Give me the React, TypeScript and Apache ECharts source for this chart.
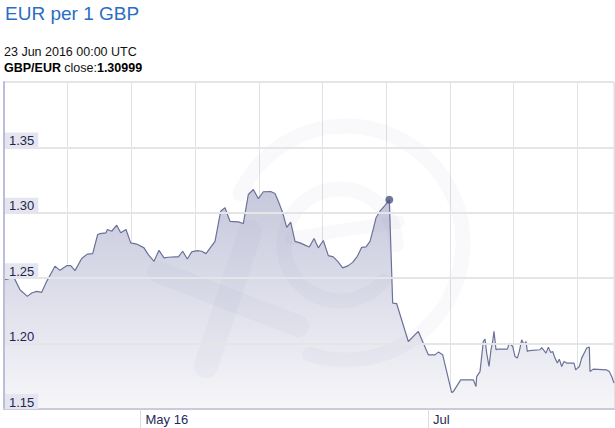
import React, { useEffect, useRef } from "react";
import * as echarts from "echarts";

// Days from 16 May 2016 00:00 UTC
const dayOffsets = [
  -21.76, -21.15, -20.45, -20.08, -19.28, -18.11, -17.41, -16.61, -15.81, -15.01,
  -13.68, -12.88, -11.81, -11.17, -10.48, -9.41, -8.51, -7.65, -6.85, -6.48,
  -5.52, -5.31, -4.61, -3.81, -3.17, -2.32, -1.57, -0.61, 0.56, 1.25,
  2.16, 2.96, 3.76, 4.45, 5.52, 6.05, 6.75, 7.49, 8.19, 9.09,
  9.79, 10.48, 11.92, 12.83, 13.52, 14.32, 15.65, 16.45, 17.25, 18.05,
  18.85, 19.65, 20.83, 21.52, 22.05, 22.75, 23.39, 24.03, 24.72, 25.52,
  26.32, 27.01, 27.76, 28.45, 29.25, 30.05, 30.85, 31.55, 32.35, 33.25,
  33.95, 34.69, 35.39, 36.08, 36.72, 37.25, 37.68, 38.32, 39.12, 39.81,
  40.35, 40.99, 42.85, 44.45, 46.05, 47.12, 47.65, 48.35, 49.79, 50.05,
  51.23, 53.25, 53.68, 53.79, 54.32, 54.85, 55.12, 55.39, 55.76, 56.08,
  56.35, 56.56, 56.88, 57.15, 58.69, 59.01, 59.55, 59.92, 60.29, 60.61,
  60.99, 61.36, 61.68, 61.89, 62.21, 63.92, 64.19, 64.88, 65.25, 65.63,
  65.95, 66.32, 66.69, 67.01, 67.39, 67.76, 68.19, 69.36, 69.63, 70.21,
  70.59, 71.12, 71.39, 71.81, 71.92, 72.45, 74.59, 75.01, 75.39, 75.76,
];

// GBP/EUR rates
const rates = [
  1.2489, 1.2494, 1.2527, 1.2489, 1.2412, 1.2361, 1.2387, 1.2399, 1.2392, 1.2476,
  1.2591, 1.256, 1.2596, 1.2596, 1.2558, 1.265, 1.2684, 1.2688, 1.2834, 1.2841,
  1.2847, 1.2872, 1.2859, 1.2905, 1.2847, 1.2872, 1.277, 1.2761, 1.2732, 1.268,
  1.2629, 1.2713, 1.2655, 1.266, 1.2663, 1.2663, 1.2706, 1.2647, 1.2701, 1.2711,
  1.2706, 1.2688, 1.2782, 1.3012, 1.3038, 1.2935, 1.2931, 1.2918, 1.314, 1.3178,
  1.3109, 1.3161, 1.3163, 1.3148, 1.3089, 1.3, 1.2889, 1.2928, 1.2782, 1.277,
  1.2753, 1.2739, 1.2803, 1.2732, 1.2788, 1.2673, 1.2663, 1.2629, 1.2579, 1.2596,
  1.2621, 1.2667, 1.2736, 1.2739, 1.2782, 1.2877, 1.2962, 1.3012, 1.3056, 1.30999,
  1.231, 1.2305, 1.2016, 1.2093, 1.1914, 1.1914, 1.1935, 1.1914, 1.1626, 1.1633,
  1.1723, 1.1723, 1.1672, 1.1748, 1.1786, 1.2016, 1.2035, 1.1927, 1.1825, 1.1953,
  1.2016, 1.2093, 1.1953, 1.1958, 1.1958, 1.2004, 1.1978, 1.1901, 1.1889, 1.194,
  1.2029, 1.1991, 1.2016, 1.194, 1.1947, 1.1953, 1.197, 1.1927, 1.1973, 1.1932,
  1.194, 1.1889, 1.1851, 1.1881, 1.1825, 1.1863, 1.1851, 1.1851, 1.1799, 1.1825,
  1.1889, 1.194, 1.1966, 1.1973, 1.1786, 1.1805, 1.1799, 1.1786, 1.1748, 1.1698,
];

const highlightIndex = 79;
const titleText = "EUR per 1 GBP";
const highlightDateText = "23 Jun 2016 00:00 UTC";
const pairName = "GBP/EUR";

const xRangeDays = [-21.84, 75.76];
const xTickDays = [0, 46];
const xTickLabels = ["May 16", "Jul"];
const yMin = 1.15;
const yMax = 1.4;
const yStep = 0.05;

const FONT = "'Liberation Sans', Arial, Helvetica, sans-serif";

export default function App() {
  const ref = useRef<HTMLDivElement>(null);

  useEffect(() => {
    if (!ref.current) return;
    const chart = echarts.init(ref.current, undefined, { renderer: "svg" });
    const seriesData = dayOffsets.map((d, i) => [d, rates[i]]);
    const wm = "rgba(110,115,165,0.045)";

    chart.setOption({
      animation: false,
      textStyle: { fontFamily: FONT },
      grid: {
        left: 4,
        right: 1,
        top: 82,
        bottom: 19,
        show: true,
        borderColor: "#dcdcdc",
        borderWidth: 1,
        backgroundColor: "#ffffff",
      },
      xAxis: [
        {
          type: "value",
          min: xRangeDays[0],
          max: xRangeDays[1],
          z: 10,
          axisLine: { show: true, onZero: false, lineStyle: { color: "#c9cadb", width: 2 } },
          axisTick: {
            show: true,
            customValues: xTickDays,
            length: 19,
            lineStyle: { color: "#dddddd", width: 1 },
          },
          axisLabel: {
            customValues: xTickDays,
            formatter: (v: number) => {
              const idx = xTickDays.findIndex((t) => Math.abs(t - v) < 0.5);
              return idx >= 0 ? xTickLabels[idx] : "";
            },
            align: "left",
            padding: [0, 0, 0, 5],
            margin: 4,
            color: "#1f2a5c",
            fontSize: 13,
            fontFamily: FONT,
          },
          splitLine: { show: false },
        },
        {
          type: "value",
          position: "top",
          min: 0,
          max: 610 / 63.7,
          interval: 1,
          axisLine: { show: false },
          axisTick: { show: false },
          axisLabel: { show: false },
          splitLine: { show: true, lineStyle: { color: "#e2e2e2", width: 1 } },
        },
      ],
      yAxis: {
        type: "value",
        min: yMin,
        max: yMax,
        interval: yStep,
        z: 10,
        axisLine: { show: true, onZero: false, lineStyle: { color: "#bcbdd8", width: 2 } },
        axisTick: { show: false },
        axisLabel: {
          inside: true,
          showMaxLabel: false,
          margin: 1,
          verticalAlign: "bottom",
          formatter: (v: number) => v.toFixed(2),
          color: "#1b2552",
          fontSize: 13,
          fontFamily: FONT,
          backgroundColor: "#e5e5ef",
          padding: [1, 4, 0, 4],
          lineHeight: 14,
        },
        splitLine: { show: true, lineStyle: { color: "#e5e5e8", width: 2 } },
      },
      series: [
        {
          type: "line",
          xAxisIndex: 0,
          data: seriesData,
          showSymbol: false,
          symbol: "none",
          lineStyle: { color: "#6b7299", width: 1.2 },
          areaStyle: {
            color: new echarts.graphic.LinearGradient(0, 0, 0, 1, [
              { offset: 0, color: "#c6c8dc" },
              { offset: 1, color: "#f6f6f9" },
            ]),
            opacity: 1,
          },
          z: 2,
        },
        {
          type: "scatter",
          xAxisIndex: 0,
          data: [[dayOffsets[highlightIndex], rates[highlightIndex]]],
          symbol: "circle",
          symbolSize: 8,
          itemStyle: { color: "#4a5480" },
          z: 5,
        },
      ],
      graphic: [
        {
          type: "text",
          left: 5,
          top: 4,
          style: { text: titleText, fill: "#2a6dc4", fontSize: 19, fontFamily: FONT },
        },
        {
          type: "text",
          left: 4,
          top: 45,
          style: { text: highlightDateText, fill: "#111111", fontSize: 12.5, fontFamily: FONT },
        },
        {
          type: "text",
          left: 4,
          top: 61,
          style: {
            text: `{b|${pairName}} {n|close:}{b|${rates[highlightIndex].toFixed(5)}}`,
            fontFamily: FONT,
            rich: {
              b: { fontWeight: "bold", fontSize: 12.5, fill: "#000000", fontFamily: FONT },
              n: { fontSize: 12.5, fill: "#111111", fontFamily: FONT },
            },
          },
        },
        {
          type: "arc",
          z: 10,
          silent: true,
          shape: { cx: 346, cy: 243, r: 117, startAngle: (205 * Math.PI) / 180, endAngle: (468 * Math.PI) / 180, clockwise: true },
          style: { stroke: wm, lineWidth: 15, fill: "none", lineCap: "round" },
        },
        {
          type: "arc",
          z: 10,
          silent: true,
          shape: { cx: 340, cy: 245, r: 56, startAngle: (40 * Math.PI) / 180, endAngle: (360 * Math.PI) / 180, clockwise: true },
          style: { stroke: wm, lineWidth: 15, fill: "none", lineCap: "round" },
        },
        {
          type: "line",
          z: 10,
          silent: true,
          shape: { x1: 292, y1: 238, x2: 398, y2: 222 },
          style: { stroke: wm, lineWidth: 13, lineCap: "round" },
        },
        {
          type: "line",
          z: 10,
          silent: true,
          shape: { x1: 158, y1: 272, x2: 298, y2: 326 },
          style: { stroke: wm, lineWidth: 22, lineCap: "round" },
        },
        {
          type: "line",
          z: 10,
          silent: true,
          shape: { x1: 250, y1: 232, x2: 206, y2: 366 },
          style: { stroke: wm, lineWidth: 24, lineCap: "round" },
        },
      ],
    });

    return () => chart.dispose();
  }, []);

  return (
    <div
      ref={ref}
      style={{ position: "fixed", left: 0, top: 0, width: 615, height: 428, background: "#ffffff" }}
    />
  );
}
